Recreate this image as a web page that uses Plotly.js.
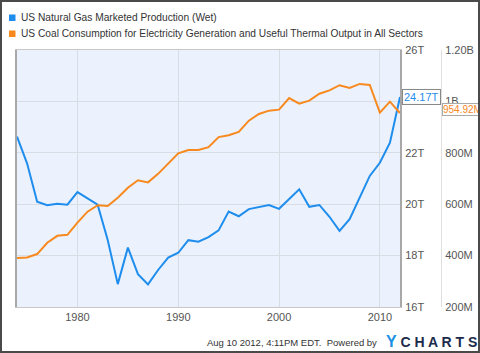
<!DOCTYPE html>
<html>
<head>
<meta charset="utf-8">
<script src="https://cdn.plot.ly/plotly-3.0.1.min.js"></script>
<style>
html,body{margin:0;padding:0;background:#fff;}
#wrap{position:relative;width:480px;height:353px;}
#chart{position:absolute;left:0;top:0;width:480px;height:353px;}
#frame{position:absolute;left:0;top:0;width:480px;height:353px;box-sizing:border-box;border:2px solid #4a4a4a;pointer-events:none;}
</style>
</head>
<body>
<div id="wrap"><div id="chart"></div><div id="frame"></div></div>
<script>
const years = [1973,1974,1975,1976,1977,1978,1979,1980,1981,1982,1983,1984,1985,1986,1987,1988,1989,1990,1991,1992,1993,1994,1995,1996,1997,1998,1999,2000,2001,2002,2003,2004,2005,2006,2007,2008,2009,2010,2011];
// US Natural Gas Marketed Production (Wet), trillions of cubic feet
const gasT = [22.63,21.59,20.10,19.96,20.02,19.98,20.47,20.21,19.98,18.61,16.89,18.31,17.28,16.88,17.44,17.92,18.11,18.60,18.54,18.72,18.98,19.71,19.53,19.81,19.88,19.97,19.82,20.20,20.58,19.90,19.97,19.51,18.96,19.42,20.23,21.10,21.61,22.39,24.17];
// US Coal Consumption for Electricity Generation and Useful Thermal Output, millions
const coalM = [391,393,406,450,477,481,528,571,596,593,625,664,693,685,718,759,798,811,811,822,861,868,881,925,951,964,968,1013,991,1003,1030,1043,1063,1052,1068,1064,956,999,954.92];
const seriesNames = ["US Natural Gas Marketed Production (Wet)","US Coal Consumption for Electricity Generation and Useful Thermal Output in All Sectors"];
const xTickVals = ["1980-01-01","1990-01-01","2000-01-01","2010-01-01"];
const xTickText = ["1980","1990","2000","2010"];
const gasTickVals = [16,18,20,22,24,26];
const gasTickText = ["16T","18T","20T","22T","24T","26T"];
const coalTickVals = [200,400,600,800,1000,1200];
const coalTickText = ["200M","400M","600M","800M","1B","1.20B"];
const lastLabels = ["24.17T","954.92M"];

const BLUE = "#1f8ded", ORANGE = "#f7891f";
const W = 480, L = 17, R = 2, T = 50, B = 46;
const PW = W - L - R, PH = 353 - T - B;
const px = p => (p - L) / PW;
const py = p => (353 - B - p) / PH;

const dates = years.map(y => y + "-12-31");

const traces = [
  {x: dates, y: gasT, type: "scatter", mode: "lines", line: {color: BLUE, width: 2}, yaxis: "y", showlegend: false, name: seriesNames[0]},
  {x: dates, y: coalM, type: "scatter", mode: "lines", line: {color: ORANGE, width: 2}, yaxis: "y2", showlegend: false, name: seriesNames[1]}
];

const font = {family: "'Liberation Sans', Arial, sans-serif"};
const layout = {
  width: W, height: 353,
  margin: {l: L, r: R, t: T, b: B, pad: 0},
  paper_bgcolor: "#fff",
  plot_bgcolor: "#ebf2fd",
  font: Object.assign({size: 11, color: "#555"}, font),
  showlegend: false,
  xaxis: {
    type: "date", domain: [0, px(400)],
    range: ["1973-12-31", "2011-12-31"],
    tickvals: xTickVals, ticktext: xTickText,
    showgrid: true, gridcolor: "#d9dde3", gridwidth: 1,
    showline: true, linecolor: "#c8c8c8", linewidth: 1, mirror: true,
    ticks: "", zeroline: false,
    tickfont: {size: 11, color: "#555"}
  },
  yaxis: {
    range: [16, 26], side: "right", anchor: "x",
    tickvals: gasTickVals, ticktext: gasTickText,
    showgrid: true, gridcolor: "#d9dde3", gridwidth: 1,
    showline: true, linecolor: "#a8a8a8", linewidth: 2, mirror: true,
    ticks: "", zeroline: false, ticklabelstandoff: 1,
    tickfont: {size: 11, color: "#555"}
  },
  yaxis2: {
    range: [200, 1200], overlaying: "y", side: "right", anchor: "free", position: px(441),
    tickvals: coalTickVals, ticktext: coalTickText,
    showgrid: false, showline: true, linecolor: "#e0e0e0", linewidth: 1,
    ticks: "", zeroline: false, ticklabelstandoff: 1,
    tickfont: {size: 11, color: "#555"}
  },
  shapes: [
    {type: "rect", xref: "paper", yref: "paper", x0: px(9), x1: px(15.5), y0: py(21), y1: py(14.5), fillcolor: BLUE, line: {width: 0}},
    {type: "rect", xref: "paper", yref: "paper", x0: px(9), x1: px(15.5), y0: py(37), y1: py(30.5), fillcolor: ORANGE, line: {width: 0}}
  ],
  annotations: [
    {xref: "paper", yref: "paper", x: px(18.5), y: py(17.5), xanchor: "left", yanchor: "middle", text: seriesNames[0], showarrow: false, font: Object.assign({size: 10.2, color: "#333"}, font)},
    {xref: "paper", yref: "paper", x: px(18.5), y: py(33.5), xanchor: "left", yanchor: "middle", text: seriesNames[1], showarrow: false, font: Object.assign({size: 10.2, color: "#333"}, font)},
    {xref: "paper", yref: "paper", x: px(402), y: py(97), xanchor: "left", yanchor: "middle", text: lastLabels[0], showarrow: false, bgcolor: "#fff", bordercolor: "#888", borderwidth: 1, borderpad: 1, font: Object.assign({size: 11, color: BLUE}, font)},
    {xref: "paper", yref: "paper", x: px(442), y: py(110), xanchor: "left", yanchor: "middle", text: lastLabels[1], showarrow: false, bgcolor: "#fff", bordercolor: "#aaa", borderwidth: 1, borderpad: 0, font: Object.assign({size: 10, color: ORANGE}, font)},
    {xref: "paper", yref: "paper", x: px(379), y: py(342), xanchor: "right", yanchor: "middle", text: "Aug 10 2012, 4:11PM EDT.\u00a0 Powered by", showarrow: false, font: Object.assign({size: 9.5, color: "#333"}, font)},
    {xref: "paper", yref: "paper", x: px(384), y: py(341), xanchor: "left", yanchor: "middle", text: "<b><span style='color:#1a8fe3;font-size:16px'>Y</span> C H A R T S</b>", showarrow: false, font: Object.assign({size: 14, color: "#1c2b4b"}, font)}
  ]
};

Plotly.newPlot("chart", traces, layout, {staticPlot: true, displayModeBar: false});
</script>
</body>
</html>
